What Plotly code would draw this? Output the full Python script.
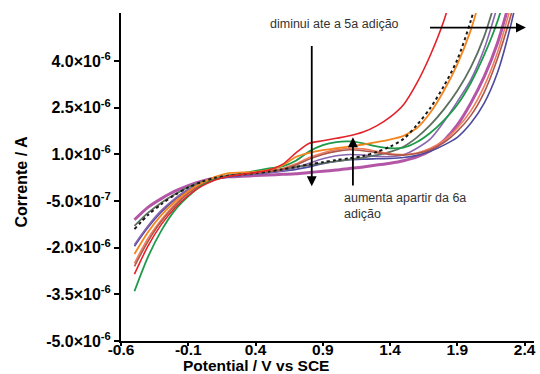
import plotly.graph_objects as go

# Potential grid (V vs SCE)
potential = [-0.5, -0.4, -0.3, -0.2, -0.1, 0.0, 0.1, 0.2, 0.3, 0.4, 0.5, 0.6, 0.7, 0.8, 0.9,
             1.0, 1.1, 1.2, 1.3, 1.4, 1.5, 1.6, 1.7, 1.8, 1.9, 2.0, 2.1, 2.2, 2.3, 2.4]

# Currents in microampere (x1e-6 A)
magenta = [-1.1, -0.7, -0.42, -0.18, 0.0, 0.14, 0.24, 0.28, 0.3, 0.32, 0.34, 0.36, 0.38, 0.42, 0.46,
           0.5, 0.55, 0.6, 0.66, 0.72, 0.8, 0.92, 1.12, 1.45, 1.95, 2.65, 3.5, 4.6, 6.1]
blue = [-1.95, -1.35, -0.85, -0.45, -0.15, 0.06, 0.2, 0.28, 0.33, 0.37, 0.41, 0.46, 0.52, 0.6, 0.7,
        0.78, 0.83, 0.85, 0.86, 0.87, 0.9, 0.97, 1.1, 1.3, 1.55, 2.0, 2.65, 3.65, 5.2, 7.2]
purple = [-1.9, -1.3, -0.8, -0.42, -0.12, 0.08, 0.22, 0.3, 0.34, 0.38, 0.42, 0.48, 0.58, 0.72, 0.86,
          0.96, 1.0, 0.98, 0.94, 0.93, 0.99, 1.2, 1.5, 2.05, 2.7, 3.4, 4.4, 5.8, 7.4]
gray = [-1.3, -0.88, -0.55, -0.28, -0.05, 0.12, 0.25, 0.32, 0.36, 0.4, 0.45, 0.52, 0.6, 0.66, 0.72,
        0.78, 0.84, 0.9, 0.98, 1.08, 1.25, 1.55, 1.95, 2.45, 3.05, 3.8, 4.8, 6.2]
salmon = [-2.5, -1.7, -1.1, -0.6, -0.22, 0.05, 0.22, 0.32, 0.38, 0.42, 0.48, 0.55, 0.7, 0.9, 1.05,
          1.15, 1.2, 1.18, 1.1, 1.02, 1.0, 1.05, 1.2, 1.45, 1.85, 2.4, 3.2, 4.3, 5.8, 7.5]
brown = [-2.6, -1.8, -1.15, -0.65, -0.25, 0.03, 0.2, 0.3, 0.36, 0.4, 0.45, 0.52, 0.66, 0.85, 1.0,
         1.1, 1.15, 1.12, 1.06, 1.0, 0.98, 1.03, 1.15, 1.38, 1.75, 2.25, 3.0, 4.1, 5.5, 7.2]
green = [-3.4, -2.3, -1.45, -0.8, -0.35, 0.0, 0.2, 0.32, 0.4, 0.47, 0.55, 0.62, 0.8, 1.1, 1.3,
         1.4, 1.42, 1.36, 1.26, 1.2, 1.22, 1.4, 1.7, 2.1, 2.6, 3.3, 4.2, 5.3, 6.8]
orange = [-2.2, -1.5, -0.95, -0.52, -0.18, 0.08, 0.28, 0.4, 0.42, 0.44, 0.5, 0.65, 0.92, 1.05, 1.14,
          1.2, 1.26, 1.32, 1.4, 1.48, 1.6, 1.85, 2.35, 3.05, 3.9, 5.0, 6.5]
black = [-1.4, -0.95, -0.6, -0.3, -0.06, 0.12, 0.25, 0.32, 0.36, 0.4, 0.45, 0.52, 0.6, 0.68, 0.75,
         0.82, 0.88, 0.95, 1.08, 1.25, 1.5, 1.95, 2.5, 3.2, 4.05, 5.3, 6.9]
red = [-2.85, -1.95, -1.25, -0.72, -0.32, -0.02, 0.18, 0.3, 0.36, 0.42, 0.5, 0.68, 1.05, 1.36, 1.44,
       1.52, 1.6, 1.72, 1.92, 2.2, 2.6, 3.3, 4.2, 5.3, 6.8]

x_ticks = [-0.6, -0.1, 0.4, 0.9, 1.4, 1.9, 2.4]
x_ticktext = ["-0.6", "-0.1", "0.4", "0.9", "1.4", "1.9", "2.4"]
y_ticks = [-5.0, -3.5, -2.0, -0.5, 1.0, 2.5, 4.0]
y_ticktext = ["-5.0×10<sup>-6</sup>", "-3.5×10<sup>-6</sup>", "-2.0×10<sup>-6</sup>",
              "-5.0×10<sup>-7</sup>", "1.0×10<sup>-6</sup>", "2.5×10<sup>-6</sup>",
              "4.0×10<sup>-6</sup>"]

series = [
    (magenta, "#b356a6", 3.0, "solid"),
    (blue, "#4d4a9f", 1.6, "solid"),
    (purple, "#8a65b0", 1.6, "solid"),
    (gray, "#5e6f60", 1.8, "solid"),
    (salmon, "#ee7d5f", 1.6, "solid"),
    (brown, "#b0574a", 1.6, "solid"),
    (green, "#1f9a4a", 1.8, "solid"),
    (orange, "#f5861f", 1.8, "solid"),
    (black, "#1a1a1a", 2.0, "dot"),
    (red, "#e3222a", 1.6, "solid"),
]

fig = go.Figure()
for vals, col, w, dash in series:
    fig.add_trace(go.Scatter(x=potential[:len(vals)], y=vals, mode="lines",
                             line=dict(color=col, width=w, dash=dash, shape="spline", smoothing=0.8),
                             showlegend=False, hoverinfo="skip"))

FONT = "Liberation Sans, Arial, sans-serif"
fig.update_layout(
    width=540, height=374,
    margin=dict(l=121, r=4, t=13, b=33),
    plot_bgcolor="white", paper_bgcolor="white",
    font=dict(family=FONT, color="black"),
)
fig.update_xaxes(range=[-0.6, 2.47], tickvals=x_ticks, ticktext=x_ticktext,
                 showline=True, linecolor="black", linewidth=2, ticks="outside", ticklen=3,
                 tickwidth=1.5, tickcolor="black", showgrid=False, zeroline=False,
                 ticklabelstandoff=-10,
                 tickfont=dict(family=FONT, size=15.5, weight="bold", color="black"))
fig.update_yaxes(range=[-5.0, 5.55], tickvals=y_ticks, ticktext=y_ticktext,
                 showline=True, linecolor="black", linewidth=2, ticks="outside", ticklen=5,
                 tickwidth=1.5, tickcolor="black", showgrid=False, zeroline=False,
                 tickfont=dict(family=FONT, size=16, weight="bold", color="black"))

ann_font = dict(family=FONT, size=12.5, color="#333333")
fig.add_annotation(x=0.489, y=5.21, xref="x", yref="y", text="diminui ate a 5a adição",
                   showarrow=False, xanchor="left", yanchor="middle", font=ann_font)
fig.add_annotation(x=1.042, y=-0.66, xref="x", yref="y", text="aumenta apartir da 6a<br>adição",
                   showarrow=False, xanchor="left", yanchor="middle", align="left", font=ann_font)

arrow = dict(showarrow=True, arrowhead=2, arrowsize=1.1, arrowwidth=1.8, arrowcolor="black",
             text="", xref="x", yref="y", axref="x", ayref="y")
fig.add_annotation(x=0.818, y=-0.02, ax=0.818, ay=4.54, **arrow)
fig.add_annotation(x=1.124, y=1.55, ax=1.124, ay=-0.05, **arrow)
fig.add_annotation(x=2.41, y=5.08, ax=1.686, ay=5.08, **arrow)

title_font = dict(family=FONT, size=15.5, weight="bold", color="black")
fig.add_annotation(x=(257 - 121) / 415, y=(341 - 365.5) / 328, xref="paper", yref="paper",
                   text="Potential / V vs SCE", showarrow=False, xanchor="center",
                   yanchor="middle", font=title_font)
fig.add_annotation(x=(21 - 121) / 415, y=(341 - 182) / 328, xref="paper", yref="paper",
                   text="Corrente / A", showarrow=False, textangle=-90, xanchor="center",
                   yanchor="middle", font=dict(family=FONT, size=16, weight="bold", color="black"))

fig.write_html("out.html", config={"displayModeBar": False},
               post_script="document.body.style.margin='0';document.body.style.overflow='hidden';")
